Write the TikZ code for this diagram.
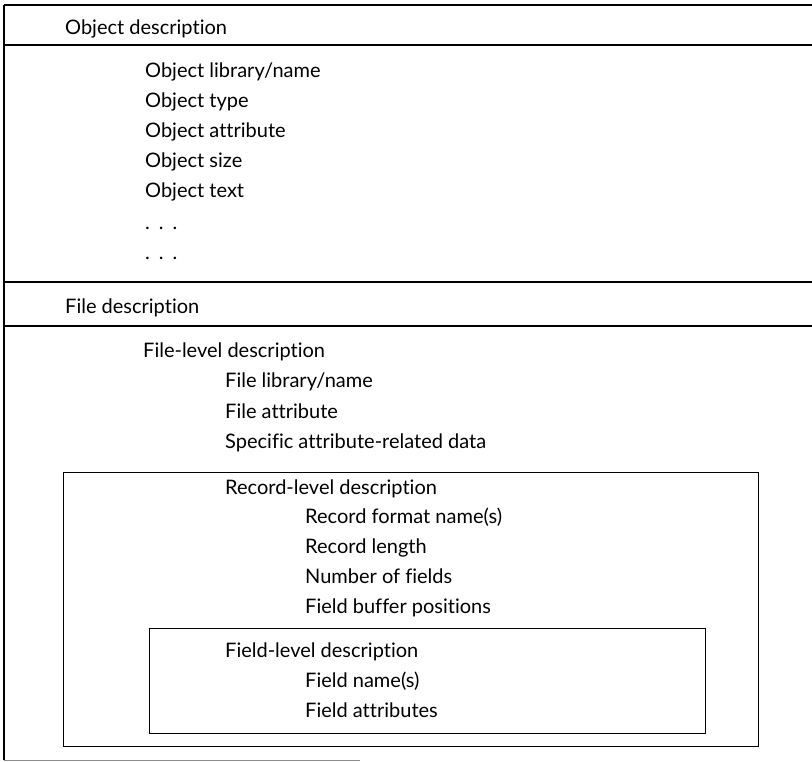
\documentclass[tikz,border=0pt]{standalone}
\usepackage{fontspec}
\setmainfont{Lato}[Ligatures=NoCommon]
\begin{document}
\begin{tikzpicture}[x=1pt,y=-1pt,
  txt/.style={anchor=base west,inner sep=0pt,font=\fontsize{20}{23}\selectfont},
  rule/.style={line width=1.6pt},
  frame/.style={line width=1.1pt},
  box/.style={line width=1pt}]
\useasboundingbox (0,0) rectangle (812,762);

% outer frame and section rules
\draw[frame] (4,5) -- (4,760);
\draw[rule] (4,5) -- (812,5);
\draw[rule] (4,45) -- (812,45);
\draw[rule] (4,282) -- (812,282);
\draw[rule] (4,326) -- (812,326);
\draw[line width=0.8pt,black!45] (4,760) -- (360,760);

% object section
\node[txt] (objhead) at (65,35) {Object description};
\node[txt] (objname) at (145,78) {Object library/name};
\node[txt] (objtype) at (145,108) {Object type};
\node[txt] (objattr) at (145,138) {Object attribute};
\node[txt] (objsize) at (145,168) {Object size};
\node[txt] (objtext) at (145,198) {Object text};
\node[txt] (dotsa) at (145,230) {.\hspace{9pt}.\hspace{9pt}.};
\node[txt] (dotsb) at (145,260) {.\hspace{9pt}.\hspace{9pt}.};

% file section
\node[txt] (filehead) at (65,314) {File description};
\node[txt] (filelvl) at (143,357) {File-level description};
\node[txt] (filename) at (225,388) {File library/name};
\node[txt] (fileattr) at (225,418) {File attribute};
\node[txt] (filespec) at (225,448) {Specific attribute-related data};

% record-level box
\draw[box] (63,472) rectangle (758,746);
\node[txt] (reclvl) at (225,494) {Record-level description};
\node[txt] (recfmt) at (305,523) {Record format name(s)};
\node[txt] (reclen) at (305,553) {Record length};
\node[txt] (recnum) at (305,583) {Number of fields};
\node[txt] (recbuf) at (305,613) {Field buffer positions};

% field-level box
\draw[box] (149,628) rectangle (705,733);
\node[txt] (fldlvl) at (225,657) {Field-level description};
\node[txt] (fldname) at (305,687) {Field name(s)};
\node[txt] (fldattr) at (305,717) {Field attributes};
\end{tikzpicture}
\end{document}
